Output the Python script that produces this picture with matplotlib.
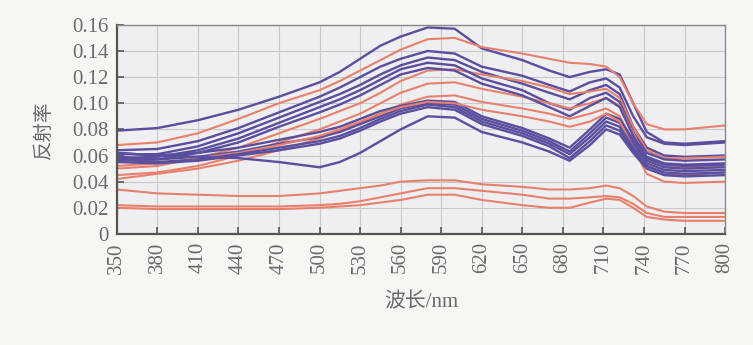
import numpy as np
import matplotlib
matplotlib.use("Agg")
import matplotlib.pyplot as plt

# 波长采样点 (nm)
wl = [350, 380, 410, 440, 470, 500, 515, 530, 545, 560, 580, 600, 620, 650, 670, 685, 700, 712, 722, 732, 742, 755, 770, 800]

# 蓝色曲线
blue_curves = [
    [.079, .081, .087, .095, .105, .116, .124, .134, .144, .151, .158, .157, .142, .133, .125, .120, .124, .126, .122, .100, .078, .070, .069, .071],
    [.064, .065, .071, .081, .093, .105, .112, .120, .128, .134, .140, .138, .128, .121, .114, .109, .116, .119, .112, .090, .074, .069, .068, .070],
    [.061, .061, .067, .077, .089, .101, .107, .114, .122, .129, .135, .133, .124, .115, .108, .103, .110, .114, .107, .082, .066, .060, .059, .060],
    [.058, .059, .064, .073, .085, .097, .103, .110, .118, .126, .131, .129, .119, .110, .100, .095, .104, .108, .101, .078, .062, .057, .056, .057],
    [.056, .057, .062, .070, .082, .093, .099, .106, .114, .122, .127, .125, .115, .106, .097, .090, .098, .104, .097, .075, .059, .054, .053, .054],
    [.062, .060, .062, .066, .072, .078, .082, .088, .094, .098, .102, .101, .090, .081, .073, .066, .080, .092, .088, .072, .058, .053, .052, .053],
    [.059, .057, .059, .063, .069, .074, .078, .084, .090, .096, .100, .099, .088, .079, .071, .063, .077, .089, .085, .069, .056, .051, .050, .051],
    [.057, .055, .057, .061, .066, .071, .075, .081, .088, .094, .099, .097, .086, .077, .069, .061, .074, .086, .082, .066, .054, .049, .048, .049],
    [.055, .054, .056, .060, .064, .069, .073, .079, .086, .092, .097, .095, .084, .075, .067, .058, .071, .083, .079, .064, .052, .047, .046, .047],
    [.062, .060, .059, .058, .055, .051, .055, .062, .071, .080, .090, .089, .078, .070, .063, .056, .068, .080, .076, .062, .050, .045, .044, .045],
]

# 红色曲线
red_curves = [
    [.068, .070, .077, .088, .100, .110, .117, .125, .133, .141, .149, .150, .143, .138, .134, .131, .130, .128, .120, .100, .084, .080, .080, .083],
    [.050, .052, .058, .066, .077, .088, .094, .100, .108, .117, .125, .126, .122, .117, .112, .107, .109, .111, .104, .082, .064, .058, .058, .059],
    [.045, .047, .052, .060, .070, .080, .086, .092, .100, .108, .115, .116, .111, .105, .100, .096, .100, .104, .098, .077, .058, .051, .051, .052],
    [.042, .046, .050, .056, .064, .073, .079, .085, .092, .099, .105, .106, .101, .096, .092, .088, .092, .096, .090, .070, .052, .045, .045, .047],
    [.052, .054, .058, .062, .068, .075, .080, .086, .092, .097, .101, .100, .095, .090, .086, .082, .086, .092, .086, .066, .046, .040, .039, .040],
    [.034, .031, .030, .029, .029, .031, .033, .035, .037, .040, .041, .041, .038, .036, .034, .034, .035, .037, .035, .029, .021, .017, .016, .016],
    [.022, .021, .021, .021, .021, .022, .023, .025, .028, .031, .035, .035, .033, .030, .027, .027, .028, .029, .028, .023, .016, .013, .013, .013],
    [.020, .019, .019, .019, .019, .020, .021, .022, .024, .026, .030, .030, .026, .022, .020, .020, .024, .027, .026, .020, .013, .011, .010, .010],
]

xticks = list(range(350, 801, 30))
yticks = [0, 0.02, 0.04, 0.06, 0.08, 0.10, 0.12, 0.14, 0.16]
ytick_labels = ["0", "0.02", "0.04", "0.06", "0.08", "0.10", "0.12", "0.14", "0.16"]

blue = "#5a4f9f"
red = "#e8806c"
txt = "#6a6a6a"
fonts = ["Liberation Serif", "Noto Sans CJK SC"]

fig = plt.figure(figsize=(7.53, 3.45), dpi=100, facecolor="#f6f6f3")
ax = fig.add_axes([0.155, 0.322, 0.808, 0.606])
ax.set_facecolor("#efeef1")

order = [("b", 0), ("r", 0), ("b", 1), ("b", 2), ("r", 1), ("b", 3), ("r", 2), ("b", 4),
         ("r", 3), ("b", 5), ("b", 6), ("r", 4), ("b", 7), ("b", 8), ("b", 9),
         ("r", 5), ("r", 6), ("r", 7)]
for kind, i in order:
    if kind == "b":
        ax.plot(wl, blue_curves[i], color=blue, lw=1.7)
    else:
        ax.plot(wl, red_curves[i], color=red, lw=1.5)

ax.set_xlim(350, 800)
ax.set_ylim(0, 0.16)
ax.set_xticks(xticks)
ax.set_xticklabels([str(t) for t in xticks], rotation=90, fontsize=15,
                   family=fonts, color=txt)
ax.set_yticks(yticks)
ax.set_yticklabels(ytick_labels, fontsize=15, family=fonts, color=txt)
ax.tick_params(direction="in", length=5, width=1.2, color="#555555", pad=6)
ax.grid(True, color="#c9c9cc", lw=0.8)
ax.set_axisbelow(True)

for side in ["left", "bottom"]:
    ax.spines[side].set_color("#555555")
    ax.spines[side].set_linewidth(1.6)
for side in ["top", "right"]:
    ax.spines[side].set_color("#8a8a8a")
    ax.spines[side].set_linewidth(1.0)

ax.set_xlabel("波长/nm", fontsize=15, family=fonts, color=txt, labelpad=14)
ax.set_ylabel("反射率", fontsize=14, family=fonts, color=txt, labelpad=14)

fig.savefig("out.png", dpi=100, facecolor=fig.get_facecolor())
